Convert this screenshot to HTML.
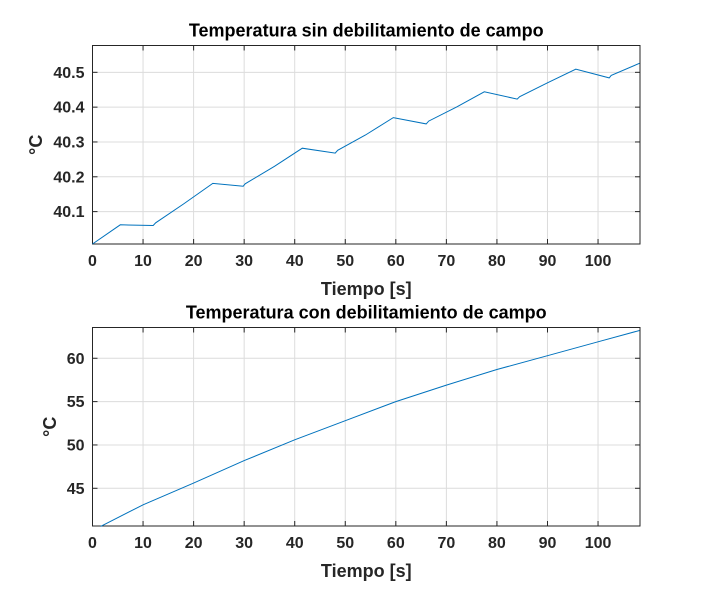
<!DOCTYPE html>
<html><head><meta charset="utf-8"><style>
body{margin:0;background:#fff}
svg{display:block;font-family:"Liberation Sans",Arial,sans-serif;font-weight:bold;fill:#262626}
</style></head><body>
<svg id="c" width="708" height="597"></svg>
<script>
const topX=[0,5.5,12,12.5,18,23.8,29.8,30.2,36,41.5,48,48.5,54,59.5,66,66.5,72,77.5,84,84.5,90,95.6,102.2,102.6,108.2];
const topY=[40.007,40.062,40.060,40.068,40.122,40.181,40.173,40.180,40.23,40.282,40.268,40.276,40.32,40.370,40.352,40.36,40.40,40.444,40.423,40.43,40.47,40.509,40.484,40.491,40.526];
const botX=[1.6,10,20,30,40,50,60,70,80,90,100,108.2];
const botY=[40.6,43.1,45.6,48.2,50.6,52.8,55.0,56.9,58.7,60.3,61.9,63.2];
const xTicks=[0,10,20,30,40,50,60,70,80,90,100];
const topYTicks=[40.1,40.2,40.3,40.4,40.5];
const botYTicks=[45,50,55,60];
const NS="http://www.w3.org/2000/svg";
const svg=document.getElementById('c');
function mk(t,a,p){const e=document.createElementNS(NS,t);for(const k in a)e.setAttribute(k,a[k]);(p||svg).appendChild(e);return e;}
function panel(name,top,bottom,ymin,ymax,yticks,xs,ys,title,dec){
  const L=92.5,R=640,xmin=0,xmax=108.3;
  const sx=v=>L+(v-xmin)/(xmax-xmin)*(R-L);
  const sy=v=>bottom-(v-ymin)/(ymax-ymin)*(bottom-top);
  const g=mk('g',{});
  
  
  xTicks.forEach(t=>{const x=sx(t);
    const l=mk('line',{x1:x,x2:x,y1:top,y2:bottom,stroke:'#dcdcdc','stroke-width':1},g);
    
    mk('line',{x1:x,x2:x,y1:bottom,y2:bottom-5,stroke:'#262626'},g);
    mk('line',{x1:x,x2:x,y1:top,y2:top+5,stroke:'#262626'},g);
    const tx=mk('text',{x:x,y:bottom+22,'text-anchor':'middle','font-size':16},g);tx.textContent=t;
    });
  yticks.forEach(t=>{const y=sy(t);
    const l=mk('line',{x1:L,x2:R,y1:y,y2:y,stroke:'#dcdcdc','stroke-width':1},g);
    
    mk('line',{x1:L,x2:L+5,y1:y,y2:y,stroke:'#262626'},g);
    mk('line',{x1:R,x2:R-5,y1:y,y2:y,stroke:'#262626'},g);
    const tx=mk('text',{x:L-8,y:y+5.5,'text-anchor':'end','font-size':16},g);tx.textContent=t.toFixed(dec);
    });
  const fr=mk('rect',{x:L,y:top,width:R-L,height:bottom-top,fill:'none',stroke:'#262626','stroke-width':1},g);
  
  const pts=xs.map((v,i)=>sx(v).toFixed(1)+','+sy(ys[i]).toFixed(1)).join(' ');
  const pl=mk('polyline',{points:pts,fill:'none',stroke:'#0072bd','stroke-width':1},g);
  
  const ti=mk('text',{x:(L+R)/2,y:top-9,'text-anchor':'middle','font-size':18,fill:'#000'},g);ti.textContent=title;
  
  const xl=mk('text',{x:(L+R)/2,y:bottom+51,'text-anchor':'middle','font-size':18},g);xl.textContent='Tiempo [s]';
  
  const yc=(top+bottom)/2;
  const yl=mk('text',{x:0,y:0,'text-anchor':'middle','font-size':18,transform:`translate(${name.startsWith('top')?42:56},${yc}) rotate(-90)`},g);yl.textContent='°C';
  
}
panel('top-panel',45.5,244,40.007,40.577,topYTicks,topX,topY,'Temperatura sin debilitamiento de campo',1);
panel('bottom-panel',327.5,526,40.65,63.55,botYTicks,botX,botY,'Temperatura con debilitamiento de campo',0);
</script>
</body></html>
